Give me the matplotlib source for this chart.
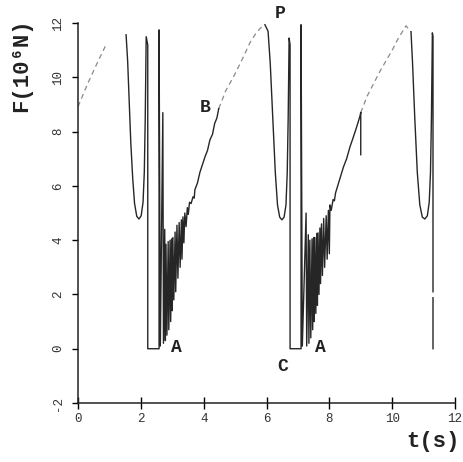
import numpy as np
import matplotlib.pyplot as plt

nan = np.nan

# Solid part of the force trace F(t), NaN = pen lifted
solid_t = [1.53, 1.58, 1.63, 1.68, 1.74, 1.80, 1.87, 1.94, 2.01, 2.07, 2.11, 2.14, 2.16, 2.17,
           2.22, 2.22, 2.58, 2.58, 2.62, 2.70, 2.72, 2.76, 2.78, 2.80, 2.83, 2.87, 2.89, 2.93,
           2.95, 2.98, 3.00, 3.02, 3.05, 3.09, 3.11, 3.15, 3.18, 3.22, 3.25, 3.29, 3.31, 3.34,
           3.37, 3.40, 3.44, 3.48, 3.51, 3.55, 3.60, 3.66, 3.70, 3.72, 3.80, 3.88, 3.95, 4.05,
           4.12, 4.20, 4.28, 4.35, 4.42, 4.48, nan,
           5.95, 6.05, 6.12, 6.20, 6.28, 6.35, 6.42, 6.49, 6.56, 6.62, 6.66, 6.69, 6.71, 6.72,
           6.75, 6.75, 7.10, 7.10, 7.14, 7.26, 7.28, 7.33, 7.35, 7.38, 7.41, 7.45, 7.47, 7.50,
           7.52, 7.54, 7.57, 7.60, 7.62, 7.64, 7.67, 7.70, 7.72, 7.75, 7.78, 7.82, 7.85, 7.90,
           7.93, 7.97, 8.00, 8.02, 8.06, 8.12, 8.16, 8.20, 8.28, 8.36, 8.45, 8.55, 8.66, 8.75,
           8.85, 8.97, 9.00, nan,
           9.00, 9.00, nan,
           10.60, 10.65, 10.72, 10.80, 10.88, 10.96, 11.04, 11.12, 11.18, 11.22, 11.25, 11.27, 11.28,
           11.30, 11.30, nan, 11.30, 11.30]
solid_f = [11.57, 10.6, 9.1, 7.6, 6.3, 5.35, 4.88, 4.78, 4.9, 5.4, 6.5, 8.5, 10.5, 11.5,
           11.2, 0.0, 0.0, 11.75, 0.1, 8.7, 0.2, 4.4, 0.3, 3.85, 0.5, 3.95, 0.7, 4.0,
           1.0, 4.05, 1.4, 4.1, 1.8, 4.3, 2.1, 4.55, 2.6, 4.65, 3.0, 4.75, 3.3, 4.86,
           3.9, 5.0, 4.5, 5.2, 4.95, 5.4, 5.35, 5.6, 5.55, 5.86, 6.1, 6.5, 6.75, 7.1,
           7.3, 7.7, 7.9, 8.3, 8.5, 8.85, nan,
           11.94, 11.7, 10.5, 8.5, 6.5, 5.3, 4.85, 4.75, 4.85, 5.3, 6.5, 8.5, 10.5, 11.45,
           11.2, 0.0, 0.0, 11.94, 0.1, 5.0, 0.1, 4.2, 0.2, 4.0, 0.4, 4.05, 0.7, 4.1,
           1.0, 4.1, 1.3, 4.25, 1.6, 4.27, 2.0, 4.45, 2.4, 4.6, 2.7, 4.8, 3.0, 4.9,
           3.3, 5.1, 3.5, 5.3, 5.1, 5.5, 5.45, 5.75, 6.05, 6.35, 6.7, 7.0, 7.45, 7.75,
           8.1, 8.55, 8.7, nan,
           8.7, 7.15, nan,
           11.68, 10.5, 8.5, 6.5, 5.3, 4.85, 4.78, 4.9, 5.4, 6.5, 8.5, 10.5, 11.64,
           11.5, 2.1, nan, 1.88, 0.0]

# Faint (dashed-looking) part of the trace
faint_t = [0.0, 0.3, 0.6, 0.92, nan,
           4.48, 4.70, 4.94, 5.20, 5.47, 5.65, 5.79, 5.95, nan,
           9.00, 9.20, 9.40, 9.60, 9.80, 10.00, 10.20, 10.44, 10.60]
faint_f = [8.92, 9.75, 10.5, 11.27, nan,
           8.85, 9.5, 10.0, 10.6, 11.27, 11.6, 11.8, 11.94, nan,
           8.7, 9.3, 9.75, 10.2, 10.6, 11.0, 11.45, 11.9, 11.68]

# Point labels on the trace
point_names = ['P', 'B', 'A', 'A', 'C']
point_t = [6.43, 4.04, 3.12, 7.72, 6.50]
point_f = [12.35, 8.9, 0.05, 0.05, -0.65]

x_ticks = [0, 2, 4, 6, 8, 10, 12]
y_ticks = [-2, 0, 2, 4, 6, 8, 10, 12]

mono = ['Liberation Mono', 'DejaVu Sans Mono']
plt.rcParams['font.family'] = mono

fig = plt.figure(figsize=(4.63, 4.62), dpi=100)
ax = fig.add_axes([0.1685, 0.1277, 0.8142, 0.8223])

ax.plot(faint_t, faint_f, color='#8a8a8a', lw=0.9, ls=(0, (4, 3)))
ax.plot(solid_t, solid_f, color='#262626', lw=1.0)

for name, t, f in zip(point_names, point_t, point_f):
    ax.text(t, f, name, fontsize=13, fontweight='bold', color='#222222',
            ha='center', va='center', clip_on=False)

ax.set_xlim(0, 12)
ax.set_ylim(-2, 12)
ax.set_xticks(x_ticks)
ax.set_yticks(y_ticks)
ax.set_xticklabels([str(v) for v in x_ticks], fontsize=9, color='#333333')
ax.set_yticklabels([str(v) for v in y_ticks], fontsize=9, color='#333333',
                   rotation=90, va='center')
ax.tick_params(axis='x', direction='inout', length=8, width=1, pad=3)
ax.tick_params(axis='y', direction='out', length=4, width=1, pad=6)
for s in ['top', 'right']:
    ax.spines[s].set_visible(False)
for s in ['left', 'bottom']:
    ax.spines[s].set_linewidth(1.1)
    ax.spines[s].set_color('#222222')

fig.text(0.0475, 0.859, 'F(10⁶N)', rotation=90, fontsize=16, fontweight='bold',
         ha='center', va='center', color='#222222')
fig.text(0.935, 0.045, 't(s)', fontsize=16, fontweight='bold',
         ha='center', va='center', color='#222222')

fig.savefig('out.png', dpi=100)
